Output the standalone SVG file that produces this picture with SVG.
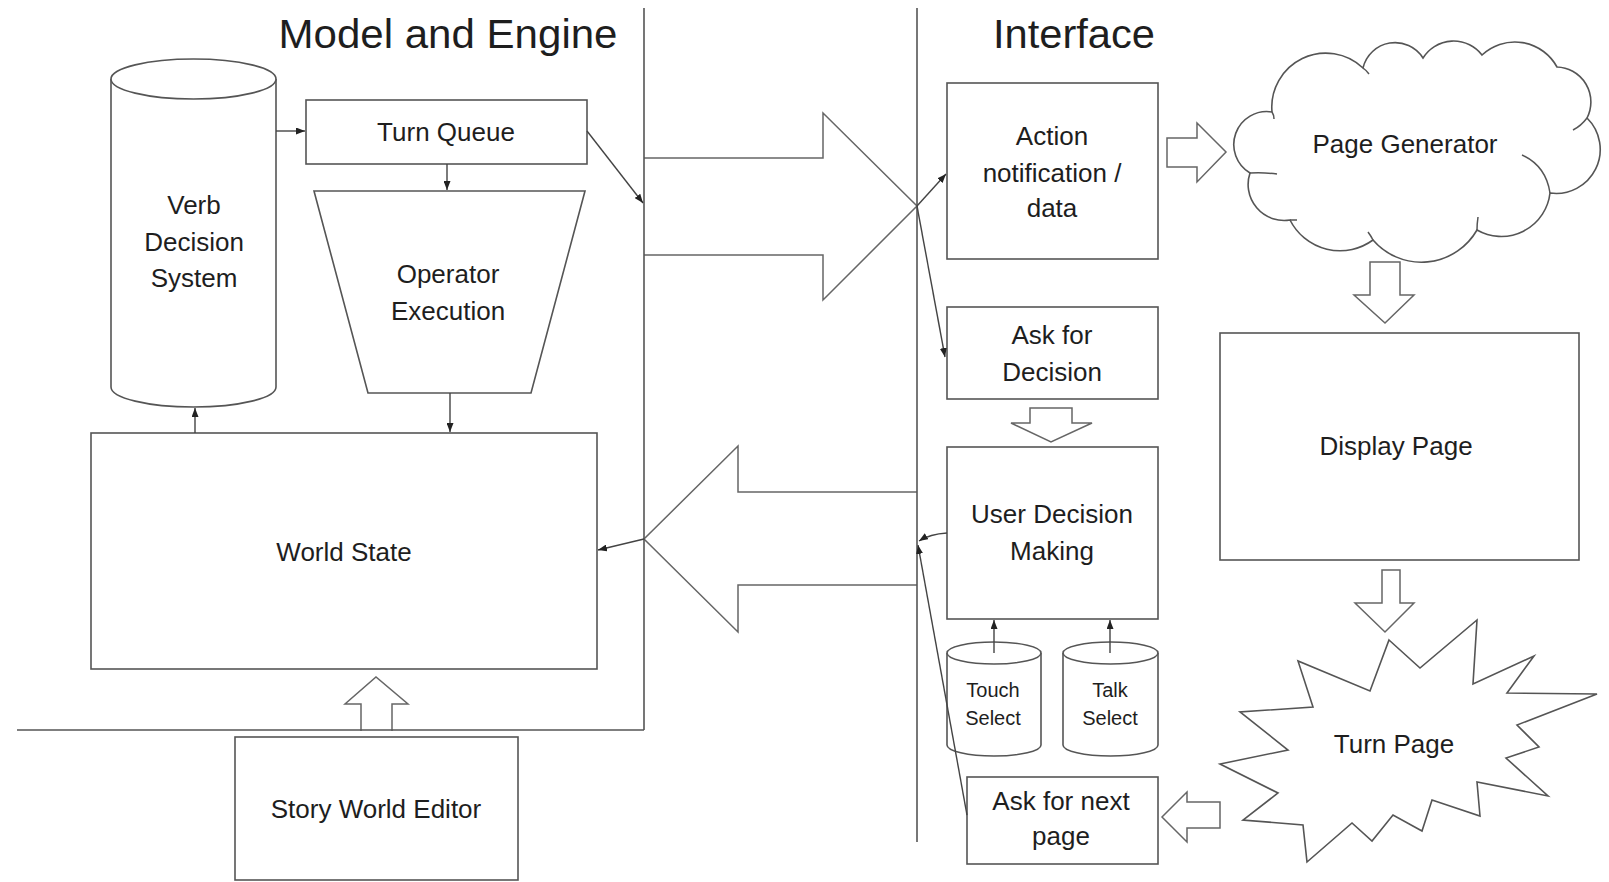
<svg xmlns="http://www.w3.org/2000/svg" width="1609" height="882" viewBox="0 0 1609 882">
  <style>
    .shape { fill: #ffffff; stroke: #555555; stroke-width: 1.6; }
    .line { fill: none; stroke: #555555; stroke-width: 1.6; }
    .block { fill: #ffffff; stroke: #666666; stroke-width: 1.5; stroke-linejoin: miter; }
    .conn { fill: none; stroke: #444444; stroke-width: 1.4; marker-end: url(#head); }
    .tail { fill: none; stroke: #555555; stroke-width: 1.5; }
    text { font-family: "Liberation Sans", Arial, sans-serif; fill: #1e1e1e; text-anchor: middle; }
    .lbl { font-size: 26px; }
    .small { font-size: 20px; }
    .title { font-size: 40px; }
  </style>
  <defs>
    <marker id="head" viewBox="0 0 9 7" refX="9" refY="3.5" markerWidth="9" markerHeight="7" markerUnits="userSpaceOnUse" orient="auto">
      <path d="M0,0 L9,3.5 L0,7 Z" fill="#222222"/>
    </marker>
  </defs>
  <rect width="1609" height="882" fill="#ffffff"/>

  <!-- hollow block arrows -->
  <g id="block-arrows">
    <polyline class="block" points="644,158 823,158 823,113 917,206 823,300 823,255 644,255"/>
    <polyline class="block" points="917,492 738,492 738,446 644,539 738,632 738,585 917,585"/>
    <polyline class="block" points="361,731 361,704 345,704 376,677 408,704 392,704 392,731"/>
    <polygon class="block" points="1167,138 1197,138 1197,123 1226,152 1197,182 1197,167 1167,167"/>
    <polygon class="block" points="1370,262 1400,262 1400,295 1414,295 1385,323 1354,295 1370,295"/>
    <polygon class="block" points="1382,570 1400,570 1400,603 1414,603 1385,632 1355,603 1382,603"/>
    <polygon class="block" points="1030,408 1072,408 1072,423 1092,423 1051,442 1011,423 1030,423"/>
    <polygon class="block" points="1220,802 1187,802 1187,792 1162,817 1187,842 1187,828 1220,828"/>
  </g>

  <!-- section dividers and titles -->
  <g id="dividers">
    <path class="line" d="M644,8 V730 M17,730 H644"/>
    <path class="line" d="M917,8 V842"/>
    <text class="title" x="448" y="48" textLength="339" lengthAdjust="spacingAndGlyphs">Model and Engine</text>
    <text class="title" x="1074" y="48" textLength="162" lengthAdjust="spacingAndGlyphs">Interface</text>
  </g>

  <!-- Model and Engine nodes -->
  <g id="verb-decision-system">
    <path class="shape" d="M111,79 V387 A82.5,20 0 0 0 276,387 V79"/>
    <ellipse class="shape" cx="193.5" cy="79" rx="82.5" ry="20"/>
    <text class="lbl" x="194" y="214">Verb</text>
    <text class="lbl" x="194" y="251">Decision</text>
    <text class="lbl" x="194" y="287">System</text>
  </g>
  <g id="turn-queue">
    <rect class="shape" x="306" y="100" width="281" height="64"/>
    <text class="lbl" x="446" y="141">Turn Queue</text>
  </g>
  <g id="operator-execution">
    <polygon class="shape" points="314,191 585,191 531,393 368,393"/>
    <text class="lbl" x="448" y="283">Operator</text>
    <text class="lbl" x="448" y="320">Execution</text>
  </g>
  <g id="world-state">
    <rect class="shape" x="91" y="433" width="506" height="236"/>
    <text class="lbl" x="344" y="561">World State</text>
  </g>
  <g id="story-world-editor">
    <rect class="shape" x="235" y="737" width="283" height="143"/>
    <text class="lbl" x="376" y="818">Story World Editor</text>
  </g>

  <!-- Interface nodes -->
  <g id="action-notification">
    <rect class="shape" x="947" y="83" width="211" height="176"/>
    <text class="lbl" x="1052" y="145">Action</text>
    <text class="lbl" x="1052" y="182">notification /</text>
    <text class="lbl" x="1052" y="217">data</text>
  </g>
  <g id="ask-for-decision">
    <rect class="shape" x="947" y="307" width="211" height="92"/>
    <text class="lbl" x="1052" y="344">Ask for</text>
    <text class="lbl" x="1052" y="381">Decision</text>
  </g>
  <g id="user-decision-making">
    <rect class="shape" x="947" y="447" width="211" height="172"/>
    <text class="lbl" x="1052" y="523">User Decision</text>
    <text class="lbl" x="1052" y="560">Making</text>
  </g>
  <g id="touch-select">
    <path class="shape" d="M947,653 V745 A47,11 0 0 0 1041,745 V653"/>
    <ellipse class="shape" cx="994" cy="653" rx="47" ry="11"/>
    <text class="small" x="993" y="697">Touch</text>
    <text class="small" x="993" y="725">Select</text>
  </g>
  <g id="talk-select">
    <path class="shape" d="M1063,653 V745 A47.5,11 0 0 0 1158,745 V653"/>
    <ellipse class="shape" cx="1110.5" cy="653" rx="47.5" ry="11"/>
    <text class="small" x="1110" y="697">Talk</text>
    <text class="small" x="1110" y="725">Select</text>
  </g>
  <g id="ask-for-next-page">
    <rect class="shape" x="967" y="777" width="191" height="87"/>
    <text class="lbl" x="1061" y="810">Ask for next</text>
    <text class="lbl" x="1061" y="845">page</text>
  </g>
  <g id="page-generator">
    <path class="shape" d="M1272,112 A54,54 0 0 1 1363,68 A33,33 0 0 1 1423,58 A36,36 0 0 1 1482,55 A48,48 0 0 1 1557,67 A35,35 0 0 1 1587,118 A44,44 0 0 1 1550,193 A49,49 0 0 1 1477,230 A64,64 0 0 1 1373,240 A56,56 0 0 1 1290,220 A36,36 0 0 1 1250,173 A33,33 0 0 1 1272,112 Z"/>
    <path class="tail" d="M1272,112 q2,3 2,7 M1363,68 q3,2 6,6 M1587,118 q-6,8 -14,12 M1550,193 Q1546,166 1522,155 M1477,230 q0,-6 1,-13 M1373,240 q-2,-4 -5,-8 M1290,220 h7 M1250,173 q12,-1 27,1"/>
    <text class="lbl" x="1405" y="153">Page Generator</text>
  </g>
  <g id="display-page">
    <rect class="shape" x="1220" y="333" width="359" height="227"/>
    <text class="lbl" x="1396" y="455">Display Page</text>
  </g>
  <g id="turn-page">
    <polygon class="shape" points="1389,640 1420,668 1477,620 1473,684 1534,656 1507,693 1597,694 1517,725 1539,747 1506,758 1548,796 1477,782 1480,816 1432,800 1422,831 1393,815 1372,841 1352,823 1307,862 1303,825 1243,820 1278,793 1220,764 1288,750 1240,712 1313,707 1298,661 1370,691"/>
    <text class="lbl" x="1394" y="753">Turn Page</text>
  </g>

  <!-- connectors -->
  <g id="connectors">
    <line class="conn" x1="276" y1="131" x2="305" y2="131"/>
    <line class="conn" x1="447" y1="164" x2="447" y2="190"/>
    <line class="conn" x1="587" y1="131" x2="643" y2="203"/>
    <line class="conn" x1="450" y1="393" x2="450" y2="432"/>
    <line class="conn" x1="195" y1="433" x2="195" y2="408"/>
    <line class="conn" x1="917" y1="206" x2="946" y2="174"/>
    <line class="conn" x1="917" y1="206" x2="945" y2="357"/>
    <line class="conn" x1="644" y1="539" x2="598" y2="550"/>
    <path class="conn" d="M947,533 Q930,534 919,541"/>
    <line class="conn" x1="967" y1="815" x2="918" y2="545"/>
    <line class="conn" x1="994" y1="653" x2="994" y2="620"/>
    <line class="conn" x1="1110" y1="653" x2="1110" y2="620"/>
  </g>
</svg>
